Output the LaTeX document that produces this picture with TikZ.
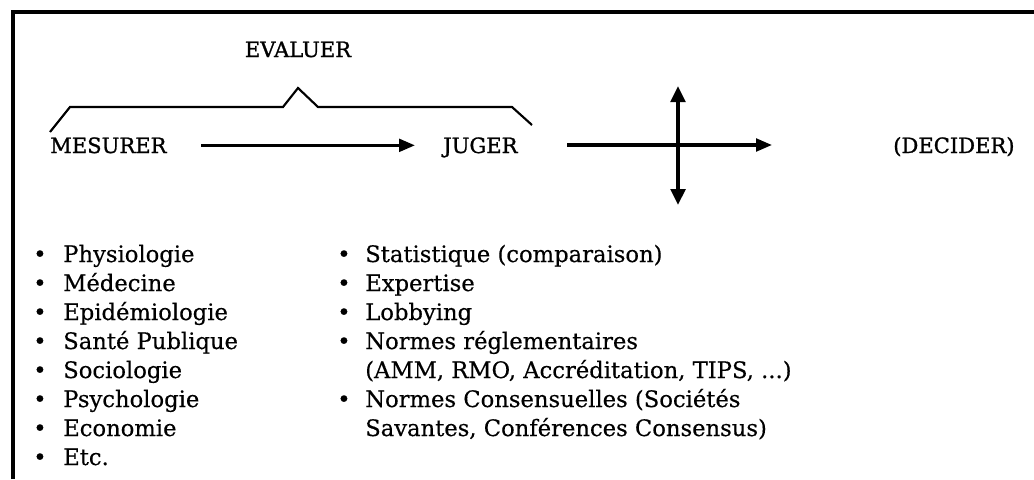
\documentclass[tikz,border=0pt]{standalone}
\usepackage{fontspec}
\setmainfont{DejaVu Serif}
\newfontfamily\titrefont[FakeBold=1.2]{DejaVu Serif}
\newfontfamily\listefont[FakeBold=0.4]{DejaVu Serif}
\usetikzlibrary{arrows.meta}

\tikzset{
  titre/.style={inner sep=0pt, anchor=base west, text height=11.5pt, text depth=0pt, font=\titrefont\fontsize{15.8}{18}\selectfont},
  liste/.style={inner sep=0pt, anchor=base west, font=\listefont\fontsize{17}{21.75}\selectfont},
  fleche/.style={line width=2.4pt, -{Triangle[length=12pt,width=9.5pt]}},
  double fleche/.style={line width=2.6pt, {Triangle[length=12pt,width=11pt]}-{Triangle[length=12pt,width=11pt]}},
  cadre/.style={line width=2.5pt},
  accolade/.style={line width=1.6pt},
}

\begin{document}
\begin{tikzpicture}[x=0.75pt,y=-0.75pt]
  \useasboundingbox (0,0) rectangle (1034,479);
  \draw[cadre] (13,479) |- (1034,12);

  \node[titre,anchor=base] (evaluer) at (298,57) {EVALUER};
  \draw[accolade] (50,132) -- (70,107) -- (283,107) -- (298,88) -- (318,107) -- (512,107) -- (532,125);

  \node[titre] (mesurer) at (50,153) {MESURER};
  \node[titre] (juger) at (443,153) {JUGER};
  \node[titre] (decider) at (893,153) {(DECIDER)};
  \draw[fleche, shorten <=26pt, shorten >=21pt] (mesurer) -- (juger);

  \coordinate (gauche) at (567,145);
  \coordinate (droite) at (772,145);
  \coordinate (haut) at (678,86);
  \coordinate (bas) at (678,205);
  \draw[fleche] (gauche) -- (droite);
  \draw[double fleche] (bas) -- (haut);

  \node[liste] (disciplines) at (33,262) {\begin{tabular}[t]{@{}p{22.5pt}@{}l@{}}
    • & Physiologie\\
    • & Médecine\\
    • & Epidémiologie\\
    • & Santé Publique\\
    • & Sociologie\\
    • & Psychologie\\
    • & Economie\\
    • & Etc.
  \end{tabular}};
  \node[liste] (criteres) at (337,262) {\begin{tabular}[t]{@{}p{21pt}@{}l@{}}
    • & Statistique (comparaison)\\
    • & Expertise\\
    • & Lobbying\\
    • & Normes réglementaires\\
      & (AMM, RMO, Accréditation, TIPS, ...)\\
    • & Normes Consensuelles (Sociétés\\
      & Savantes, Conférences Consensus)
  \end{tabular}};
\end{tikzpicture}
\end{document}
